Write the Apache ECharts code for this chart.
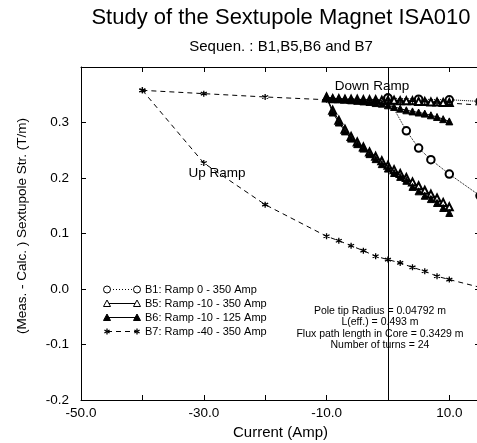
<!DOCTYPE html>
<html lang="en">
<head>
    <meta charset="utf-8"/>
    <title>Study of the Sextupole Magnet ISA010</title>
    <script src="https://cdn.jsdelivr.net/npm/echarts@6/dist/echarts.min.js"></script>
    <style>
        * { margin: 0; padding: 0; }
        html, body { width: 100%; height: 100%; background: #fff; }
        #main { width: 477px; height: 443px; }
    </style>
</head>
<body>
<div id="main"></div>
<script type="text/javascript">
    // currents (Amp) and strength differences (T/m)
    var stepI = [-10, -9, -8, -7, -6, -5, -4, -3, -2, -1, 0, 1, 2, 3, 4, 5, 6, 7, 8, 9, 10];

    var b1UpI = [0, 3, 5, 7, 10, 15];
    var b1UpB = [0.344, 0.285, 0.254, 0.233, 0.207, 0.168];
    var b1DownI = [0, 5, 10, 15];
    var b1DownB = [0.344, 0.342, 0.341, 0.338];

    var b5UpB = [0.346, 0.322, 0.304, 0.288, 0.275, 0.265, 0.256, 0.247, 0.239, 0.231, 0.223,
        0.215, 0.208, 0.201, 0.193, 0.186, 0.178, 0.171, 0.164, 0.156, 0.148];
    var b5DownB = [0.344, 0.343, 0.343, 0.342, 0.342, 0.342, 0.341, 0.341, 0.341, 0.340, 0.340,
        0.340, 0.339, 0.339, 0.339, 0.338, 0.338, 0.337, 0.337, 0.336, 0.336];

    var b6UpB = [0.345, 0.318, 0.300, 0.284, 0.271, 0.261, 0.253, 0.243, 0.234, 0.225, 0.217,
        0.209, 0.202, 0.195, 0.184, 0.176, 0.168, 0.162, 0.155, 0.146, 0.137];
    var b6DownB = [0.346, 0.344, 0.343, 0.342, 0.340, 0.339, 0.338, 0.337, 0.335, 0.334, 0.331,
        0.328, 0.325, 0.322, 0.320, 0.318, 0.316, 0.313, 0.310, 0.306, 0.302];

    var b7I = [-40, -30, -20, -10, -8, -6, -4, -2, 0, 2, 4, 6, 8, 10, 25];
    var b7UpB = [0.358, 0.227, 0.152, 0.095, 0.087, 0.078, 0.069, 0.059, 0.053, 0.047, 0.039,
        0.032, 0.023, 0.017, -0.025];
    var b7DownB = [0.358, 0.352, 0.346, 0.341, 0.340, 0.340, 0.339, 0.339, 0.338, 0.338, 0.337,
        0.337, 0.336, 0.335, 0.324];

    var names = ['B1: Ramp 0 - 350 Amp', 'B5: Ramp -10 - 350 Amp', 'B6: Ramp -10 - 125 Amp', 'B7: Ramp -40 - 350 Amp'];
    var infoLines = ['Pole tip Radius = 0.04792 m', 'L(eff.) = 0.493 m',
        'Flux path length in Core = 0.3429 m', 'Number of turns = 24'];

    var FONT = '"Liberation Sans", Arial, Helvetica, sans-serif';
    var asterisk = 'path://M5,0L5,10M0.67,2.5L9.33,7.5M0.67,7.5L9.33,2.5';
    var dashB7 = [5, 4];

    function pairs(xs, ys) {
        var out = [];
        for (var i = 0; i < xs.length; i++) out.push([xs[i], ys[i]]);
        return out;
    }

    function line(name, data, symbol, size, lineType) {
        return {
            name: name,
            type: 'line',
            data: data,
            symbol: symbol,
            symbolSize: size,
            showAllSymbol: true,
            clip: true,
            lineStyle: { color: '#000', width: 1, type: lineType },
            itemStyle: { color: '#000', borderColor: '#000', borderWidth: symbol === asterisk ? 1.3 : 1 },
            emphasis: { disabled: true }
        };
    }

    var series = [
        line(names[0], pairs(b1UpI, b1UpB), 'emptyCircle', 7.5, 'dotted'),
        line(names[0], pairs(b1DownI, b1DownB), 'emptyCircle', 7.5, 'dotted'),
        line(names[1], pairs(stepI, b5UpB), 'emptyTriangle', 7, 'solid'),
        line(names[1], pairs(stepI, b5DownB), 'emptyTriangle', 7, 'solid'),
        line(names[2], pairs(stepI, b6UpB), 'triangle', 7, 'solid'),
        line(names[2], pairs(stepI, b6DownB), 'triangle', 7, 'solid'),
        line(names[3], pairs(b7I, b7UpB), asterisk, 6, dashB7),
        line(names[3], pairs(b7I, b7DownB), asterisk, 6, dashB7)
    ];
    // vertical line at 0 Amp
    series[0].markLine = {
        silent: true,
        symbol: 'none',
        label: { show: false },
        lineStyle: { color: '#000', type: 'solid', width: 1 },
        data: [{ xAxis: 0 }]
    };

    var axisCommon = {
        type: 'value',
        axisLine: { show: true, onZero: false, lineStyle: { color: '#000', width: 1 } },
        axisTick: { show: true, inside: true, length: 5, lineStyle: { color: '#000' } },
        splitLine: { show: false }
    };

    // hand-drawn legend: line with a marker at each end, like the original plot
    function legendRow(i, lineDash, marker) {
        var y = 289.5 + 14 * i, x0 = 107, x1 = 137;
        var els = [{
            type: 'line', shape: { x1: x0, y1: y, x2: x1, y2: y },
            style: { stroke: '#000', lineWidth: 1, lineDash: lineDash }
        }];
        [x0, x1].forEach(function (x) {
            if (marker === 'circle') {
                els.push({ type: 'circle', shape: { cx: x, cy: y, r: 3.5 }, style: { fill: '#fff', stroke: '#000', lineWidth: 1 } });
            } else if (marker === 'openTri' || marker === 'tri') {
                els.push({
                    type: 'polygon', shape: { points: [[x, y - 3.5], [x - 3.5, y + 3], [x + 3.5, y + 3]] },
                    style: { fill: marker === 'tri' ? '#000' : '#fff', stroke: '#000', lineWidth: 1 }
                });
            } else {
                [[0, -3, 0, 3], [-2.6, -1.5, 2.6, 1.5], [-2.6, 1.5, 2.6, -1.5]].forEach(function (s) {
                    els.push({ type: 'line', shape: { x1: x + s[0], y1: y + s[1], x2: x + s[2], y2: y + s[3] }, style: { stroke: '#000', lineWidth: 1.3 } });
                });
            }
        });
        els.push({
            type: 'text', x: 145, y: y,
            style: { text: names[i], font: '11px ' + FONT, fill: '#000', align: 'left', verticalAlign: 'middle' }
        });
        return els;
    }

    var graphics = [
        { type: 'text', x: 281, y: 18, style: { text: 'Study of the Sextupole Magnet ISA010', font: '22px ' + FONT, fill: '#000', align: 'center', verticalAlign: 'middle' } },
        { type: 'text', x: 281, y: 47, style: { text: 'Sequen. : B1,B5,B6 and B7', font: '15px ' + FONT, fill: '#000', align: 'center', verticalAlign: 'middle' } },
        { type: 'text', x: 22, y: 226, rotation: Math.PI / 2, style: { text: '(Meas. - Calc. ) Sextupole Str. (T/m)', font: '13.5px ' + FONT, fill: '#000', align: 'center', verticalAlign: 'middle' } },
        { type: 'text', x: 372, y: 86, style: { text: 'Down Ramp', font: '13.5px ' + FONT, fill: '#000', align: 'center', verticalAlign: 'middle' } },
        { type: 'text', x: 217, y: 173, style: { text: 'Up Ramp', font: '13.5px ' + FONT, fill: '#000', align: 'center', verticalAlign: 'middle' } },
        { type: 'text', x: 380, y: 305, style: { text: infoLines.join('\n'), font: '10.5px ' + FONT, lineHeight: 11.5, fill: '#000', align: 'center', verticalAlign: 'top' } }
    ].concat(
        legendRow(0, [1, 2], 'circle'),
        legendRow(1, null, 'openTri'),
        legendRow(2, null, 'tri'),
        legendRow(3, dashB7, 'star')
    );

    var option = {
        animation: false,
        backgroundColor: '#fff',
        textStyle: { fontFamily: FONT, color: '#000' },
        grid: { left: 81, right: -3, top: 67, bottom: 43, containLabel: false, outerBoundsMode: 'none' },
        xAxis: [
            Object.assign({}, axisCommon, {
                min: -50, max: 15, interval: 10,
                name: 'Current (Amp)',
                nameLocation: 'middle',
                nameGap: 25,
                nameTextStyle: { fontSize: 15, color: '#000', fontFamily: FONT },
                axisLabel: {
                    fontSize: 13.5, color: '#000', margin: 6,
                    formatter: function (v) {
                        return (v <= 10 && (v + 50) % 20 === 0) ? v.toFixed(1) : '';
                    }
                }
            }),
            Object.assign({}, axisCommon, {
                position: 'top', min: -50, max: 15, interval: 10,
                axisLabel: { show: false }
            })
        ],
        yAxis: [
            Object.assign({}, axisCommon, {
                min: -0.2, max: 0.4, interval: 0.1,
                axisLabel: {
                    fontSize: 13.5, color: '#000', margin: 12,
                    formatter: function (v) { return v > 0.35 ? '' : v.toFixed(1); }
                }
            }),
            Object.assign({}, axisCommon, {
                position: 'right', min: -0.2, max: 0.4, interval: 0.1,
                axisLabel: { show: false }
            })
        ],
        graphic: graphics,
        series: series
    };

    var chart = echarts.init(document.getElementById('main'));
    chart.setOption(option);
</script>
</body>
</html>
